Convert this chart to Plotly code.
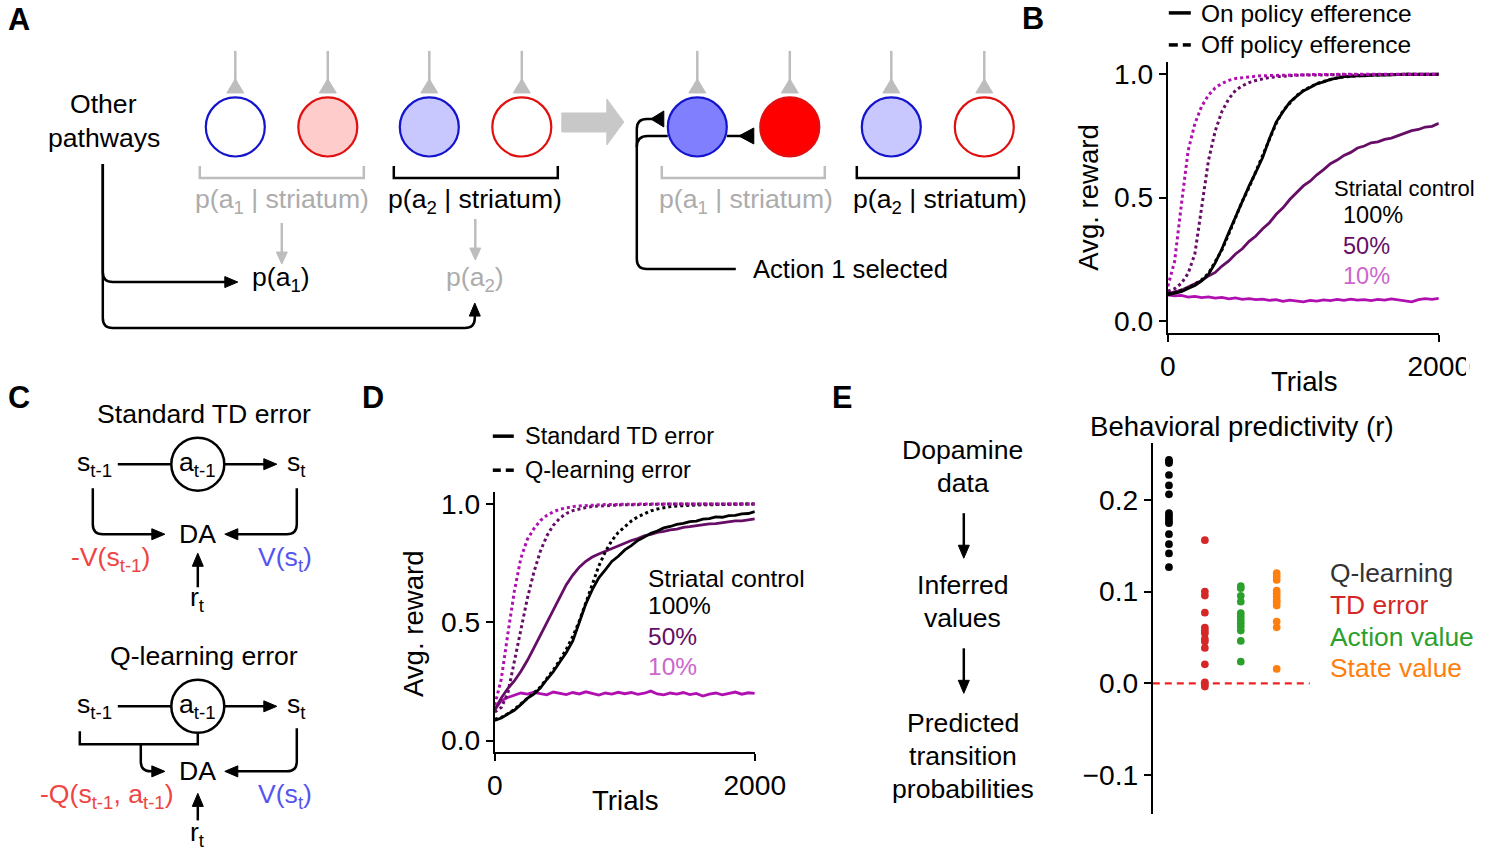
import plotly.graph_objects as go

FONT = "Liberation Sans, Arial, Helvetica, sans-serif"
W, H = 1500, 852
# the photographed page shows the figure slightly squeezed and shifted;
# these map the reference's pixel positions onto the figure's own pixels
SX, X0 = 0.974, 7.2
SY, Y0 = 0.990, 3.1
X1 = X0 + SX * W
Y1 = Y0 + SY * H
FS = 1 / 0.978

# ---------------- data ----------------
trials = list(range(0, 2001, 50))

b_on_100 = [0.105, 0.110, 0.118, 0.131, 0.143, 0.162, 0.188, 0.235, 0.292, 0.358,
            0.423, 0.482, 0.547, 0.603, 0.662, 0.738, 0.806, 0.848, 0.887, 0.910,
            0.932, 0.946, 0.961, 0.969, 0.979, 0.984, 0.990, 0.991, 0.995, 0.994,
            0.997, 0.998, 0.997, 0.999, 0.999, 1.000, 0.999, 1.000, 1.000, 0.999, 1.000]
b_off_100 = [0.112, 0.114, 0.124, 0.133, 0.149, 0.166, 0.192, 0.238, 0.288, 0.352,
             0.418, 0.485, 0.541, 0.607, 0.668, 0.733, 0.801, 0.852, 0.884, 0.913,
             0.934, 0.949, 0.962, 0.971, 0.980, 0.986, 0.989, 0.993, 0.994, 0.996,
             0.997, 0.997, 0.998, 0.999, 0.999, 1.000, 1.000, 1.000, 1.000, 1.000, 1.000]
b_on_50 = [0.110, 0.116, 0.124, 0.137, 0.150, 0.163, 0.182, 0.196, 0.222, 0.243,
           0.271, 0.292, 0.322, 0.344, 0.373, 0.398, 0.432, 0.458, 0.492, 0.518,
           0.547, 0.566, 0.592, 0.613, 0.637, 0.652, 0.671, 0.683, 0.701, 0.709,
           0.722, 0.726, 0.736, 0.741, 0.751, 0.758, 0.771, 0.776, 0.786, 0.789, 0.801]
b_off_50 = [0.120, 0.130, 0.152, 0.192, 0.272, 0.470, 0.650, 0.770, 0.850, 0.900,
            0.935, 0.953, 0.966, 0.975, 0.982, 0.987, 0.990, 0.993, 0.995, 0.996,
            0.997, 0.997, 0.998, 0.998, 0.999, 0.999, 0.999, 1.000, 1.000, 1.000,
            1.000, 1.000, 1.000, 1.000, 1.000, 1.000, 1.000, 1.000, 1.000, 1.000, 1.000]
b_on_10 = [0.105, 0.101, 0.103, 0.096, 0.099, 0.094, 0.097, 0.092, 0.095, 0.089,
           0.093, 0.087, 0.090, 0.086, 0.088, 0.083, 0.086, 0.079, 0.084, 0.081,
           0.077, 0.083, 0.080, 0.085, 0.082, 0.087, 0.083, 0.088, 0.084, 0.086,
           0.082, 0.087, 0.084, 0.089, 0.085, 0.081, 0.077, 0.086, 0.090, 0.087, 0.091]
b_off_10 = [0.140, 0.240, 0.470, 0.690, 0.800, 0.870, 0.915, 0.945, 0.963, 0.975,
            0.983, 0.987, 0.990, 0.992, 0.994, 0.995, 0.996, 0.997, 0.997, 0.998,
            0.998, 0.999, 0.999, 0.999, 1.000, 1.000, 1.000, 1.000, 1.000, 1.000,
            1.000, 1.000, 1.000, 1.000, 1.000, 1.000, 1.000, 1.000, 1.000, 1.000, 1.000]

d_td_100 = [0.085, 0.095, 0.112, 0.128, 0.152, 0.178, 0.196, 0.222, 0.258, 0.291,
            0.332, 0.372, 0.421, 0.497, 0.578, 0.638, 0.688, 0.722, 0.757, 0.779,
            0.806, 0.824, 0.846, 0.860, 0.876, 0.886, 0.899, 0.905, 0.914, 0.918,
            0.926, 0.928, 0.936, 0.938, 0.946, 0.944, 0.951, 0.952, 0.958, 0.960, 0.968]
d_q_100 = [0.090, 0.098, 0.113, 0.131, 0.155, 0.176, 0.201, 0.226, 0.262, 0.298,
           0.340, 0.386, 0.440, 0.505, 0.582, 0.660, 0.738, 0.798, 0.845, 0.880,
           0.905, 0.928, 0.946, 0.959, 0.971, 0.979, 0.985, 0.989, 0.992, 0.994,
           0.995, 0.996, 0.997, 0.997, 0.998, 0.998, 0.999, 0.999, 1.000, 1.000, 1.000]
d_td_50 = [0.130, 0.180, 0.220, 0.252, 0.292, 0.338, 0.391, 0.444, 0.499, 0.556,
           0.608, 0.659, 0.700, 0.733, 0.758, 0.776, 0.789, 0.801, 0.813, 0.824,
           0.834, 0.846, 0.854, 0.866, 0.872, 0.880, 0.884, 0.891, 0.894, 0.901,
           0.904, 0.909, 0.911, 0.916, 0.917, 0.922, 0.924, 0.929, 0.929, 0.934, 0.937]
d_q_50 = [0.120, 0.140, 0.200, 0.330, 0.470, 0.600, 0.710, 0.800, 0.865, 0.910,
          0.940, 0.960, 0.972, 0.980, 0.985, 0.990, 0.992, 0.994, 0.995, 0.996,
          0.997, 0.997, 0.998, 0.998, 0.999, 0.999, 0.999, 1.000, 1.000, 1.000,
          1.000, 1.000, 1.000, 1.000, 1.000, 1.000, 1.000, 1.000, 1.000, 1.000, 1.000]
d_td_10 = [0.130, 0.168, 0.182, 0.191, 0.201, 0.196, 0.204, 0.198, 0.193, 0.205,
           0.199, 0.194, 0.203, 0.197, 0.206, 0.199, 0.192, 0.201, 0.196, 0.204,
           0.198, 0.203, 0.195, 0.200, 0.209, 0.197, 0.193, 0.201, 0.196, 0.203,
           0.194, 0.199, 0.188, 0.196, 0.201, 0.193, 0.199, 0.205, 0.196, 0.202, 0.199]
d_q_10 = [0.150, 0.260, 0.450, 0.630, 0.770, 0.850, 0.895, 0.930, 0.952, 0.967,
          0.978, 0.984, 0.989, 0.992, 0.994, 0.996, 0.997, 0.998, 0.998, 0.999,
          0.999, 0.999, 1.000, 1.000, 1.000, 1.000, 1.000, 1.000, 1.000, 1.000,
          1.000, 1.000, 1.000, 1.000, 1.000, 1.000, 1.000, 1.000, 1.000, 1.000, 1.000]

e_categories = ["Q-learning", "TD error", "Action value", "State value"]
e_colors = ["#000000", "#d62728", "#2ca02c", "#ff7f0e"]
e_text_colors = ["#333333", "#d62728", "#2ca02c", "#ff7f0e"]
q_learning = [0.2436, 0.2418, 0.2400, 0.2270, 0.2156, 0.2060, 0.1855, 0.1830,
              0.1800, 0.1770, 0.1745, 0.1625, 0.1516, 0.1415, 0.1265]
td_error = [0.156, 0.100, 0.0956, 0.077, 0.0607, 0.0575, 0.0545, 0.0484,
            0.0455, 0.0385, 0.0207, 0.001, -0.0007, -0.0036]
action_value = [0.106, 0.1036, 0.0953, 0.089, 0.0764, 0.0727, 0.069, 0.0655,
                0.0618, 0.0575, 0.0462, 0.0236]
state_value = [0.120, 0.1164, 0.1127, 0.101, 0.098, 0.0945, 0.0909, 0.0884,
               0.0847, 0.0673, 0.061, 0.0156]
e_values = [q_learning, td_error, action_value, state_value]

reward_ticks = [0.0, 0.5, 1.0]
reward_ticktext = ["0.0", "0.5", "1.0"]
trial_ticks = [0, 2000]
e_ticks = [-0.1, 0.0, 0.1, 0.2]
e_ticktext = ["\u22120.1", "0.0", "0.1", "0.2"]

# ---------------- styles ----------------
C100 = "#000000"
C50 = "#660d66"
C10 = "#b010b0"
C10T = "#cc66cc"
BLUE = "#1414cc"
RED = "#e01010"
GRAY = "#bdbdbd"
GRAYT = "#acacac"

shapes = []
ann = []


def line(x0, y0, x1, y1, color="black", width=2.5, dash=None):
    shapes.append(dict(type="line", xref="x", yref="y", x0=x0, y0=y0, x1=x1, y1=y1,
                       line=dict(color=color, width=width, dash=dash)))


def path(d, color="black", width=2.5, fill="rgba(0,0,0,0)"):
    shapes.append(dict(type="path", xref="x", yref="y", path=d,
                       line=dict(color=color, width=width), fillcolor=fill))


def circle(cx, cy, r, edge, fill, width=2.2):
    shapes.append(dict(type="circle", xref="x", yref="y", x0=cx - r, x1=cx + r,
                       y0=cy - r, y1=cy + r, line=dict(color=edge, width=width),
                       fillcolor=fill))


def head(tx, ty, d, color="black", L=13, w=11):
    if d == "r":
        pts = [(tx, ty), (tx - L, ty - w / 2), (tx - L, ty + w / 2)]
    elif d == "l":
        pts = [(tx, ty), (tx + L, ty - w / 2), (tx + L, ty + w / 2)]
    elif d == "u":
        pts = [(tx, ty), (tx - w / 2, ty + L), (tx + w / 2, ty + L)]
    else:
        pts = [(tx, ty), (tx - w / 2, ty - L), (tx + w / 2, ty - L)]
    dstr = "M %.1f %.1f L %.1f %.1f L %.1f %.1f Z" % (pts[0] + pts[1] + pts[2])
    path(dstr, color=color, width=1, fill=color)


def text(x, y, s, size=26, color="black", xanchor="center", angle=0):
    ann.append(dict(xref="x", yref="y", x=x, y=y, text=s, showarrow=False,
                    xanchor=xanchor, yanchor="middle", textangle=angle,
                    font=dict(family=FONT, size=round(size * FS, 1), color=color)))


shapes.append(dict(type="rect", xref="x", yref="y", x0=X0, x1=X1, y0=Y0, y1=Y1,
                   line=dict(color="white", width=6)))

# ---------------- Panel labels ----------------
text(18, 19, "<b>A</b>", size=30)
text(1032, 18, "<b>B</b>", size=30)
text(18, 396, "<b>C</b>", size=30)
text(372, 396, "<b>D</b>", size=30)
text(841, 396, "<b>E</b>", size=30)

# ---------------- Panel A ----------------
CY = 126
R = 29.5
left_cells = [(234.5, BLUE, "white"), (327, RED, "#ffcccc"),
              (428.5, BLUE, "#c8c8ff"), (521, RED, "white")]
right_cells = [(696.5, BLUE, "#8080ff"), (789, RED, "#ff0000"),
               (890.5, BLUE, "#c8c8ff"), (983.5, RED, "white")]
for cx, ec, fc in left_cells + right_cells:
    line(cx, 50, cx, 82, color=GRAY, width=2.5)
    path("M %.1f 78 L %.1f 92 L %.1f 92 Z" % (cx, cx - 8.5, cx + 8.5), color=GRAY, width=1, fill=GRAY)
    circle(cx, CY, R, ec, fc)

path("M 199 165 V 177 H 363 V 165", color=GRAY, width=2.5)
path("M 393 165 V 177 H 557 V 165", color="black", width=2.5)
path("M 661 165 V 177 H 824 V 165", color=GRAY, width=2.5)
path("M 856 165 V 177 H 1018 V 165", color="black", width=2.5)

text(281, 200, "p(a<sub>1</sub> | striatum)", size=26, color=GRAYT)
text(474, 200, "p(a<sub>2</sub> | striatum)", size=26)
text(745, 200, "p(a<sub>1</sub> | striatum)", size=26, color=GRAYT)
text(939, 200, "p(a<sub>2</sub> | striatum)", size=26)

line(281, 222, 281, 252, color=GRAY, width=2.5)
head(281, 263, "d", color=GRAY, L=12, w=11)
line(474.5, 218, 474.5, 248, color=GRAY, width=2.5)
head(474.5, 259, "d", color=GRAY, L=12, w=11)

text(280, 278, "p(a<sub>1</sub>)", size=26)
text(474, 278, "p(a<sub>2</sub>)", size=26, color=GRAYT)

text(103, 103, "Other", size=26)
text(103, 137, "pathways", size=26)

path("M 102 163 V 271 Q 102 281 112 281 H 226")
head(237, 281, "r")
path("M 102 163 V 317 Q 102 327 112 327 H 464 Q 474 327 474 317 V 313")
head(474, 302, "u")

path("M 561 112 H 606 V 98 L 623 121 L 606 144 V 131 H 561 Z", color="#c8c8c8", width=1, fill="#c8c8c8")

line(726, 135, 753, 135)
path("M 738 135 L 753 127 L 753 143 Z", color="black", width=1, fill="black")
path("M 735 268 H 646 Q 636 268 636 258 V 128 Q 636 118 646 118 H 652")
path("M 650 118 L 663 110 L 663 126 Z", color="black", width=1, fill="black")
path("M 636 146 Q 636 135 647 135 H 667")
text(750, 268, "Action 1 selected", size=25, xanchor="left")


# ---------------- Panel C ----------------
def td_diagram(y0, title):
    text(203, y0 - 50, title, size=26)
    circle(197, y0, 26.5, "black", "white", width=2.5)
    text(197, y0, "a<sub>t-1</sub>", size=26)
    text(94, y0, "s<sub>t-1</sub>", size=26)
    text(296, y0, "s<sub>t</sub>", size=26)
    line(117, y0, 170.5, y0)
    line(223.5, y0, 264, y0)
    head(276, y0, "r")


td_diagram(463, "Standard TD error")
path("M 92 487 V 523 Q 92 533 102 533 H 152")
head(164, 533, "r")
path("M 296 487 V 523 Q 296 533 286 533 H 236")
head(224, 533, "l")
text(197, 533, "DA", size=26)
text(110, 558, "-V(s<sub>t-1</sub>)", size=26, color="#ee4444")
text(284, 558, "V(s<sub>t</sub>)", size=26, color="#5555ee")
line(197, 586, 197, 563)
head(197, 552, "u")
text(197, 598, "r<sub>t</sub>", size=26)

td_diagram(705, "Q-learning error")
path("M 79 730 V 743 H 197 V 731.5")
path("M 140 743 V 760 Q 140 770 150 770 H 152")
head(164, 770, "r")
path("M 296 727 V 760 Q 296 770 286 770 H 236")
head(224, 770, "l")
text(197, 770, "DA", size=26)
text(106, 795, "-Q(s<sub>t-1</sub>, a<sub>t-1</sub>)", size=26, color="#ee4444")
text(284, 795, "V(s<sub>t</sub>)", size=26, color="#5555ee")
line(197, 819, 197, 803)
head(197, 792, "u")
text(197, 833, "r<sub>t</sub>", size=26)

# ---------------- Panel E flowchart ----------------
for yy, s in [(449, "Dopamine"), (482, "data"), (584, "Inferred"), (617, "values"),
              (722, "Predicted"), (755, "transition"), (788, "probabilities")]:
    text(962, yy, s, size=26)
line(963, 512, 963, 546)
head(963, 557, "d")
line(963, 647, 963, 681)
head(963, 692, "d")

# ---------------- legends / labels for B and D ----------------
line(1168, 12, 1190, 12, width=3.5)
line(1168, 44, 1177, 44, width=3.5)
line(1182, 44, 1190, 44, width=3.5)
text(1198, 13, "On policy efference", size=24, xanchor="left")
text(1198, 44, "Off policy efference", size=24, xanchor="left")
text(1087, 196, "Avg. reward", size=27, angle=-90)
text(1303, 380, "Trials", size=27)
text(1331, 187, "Striatal control", size=21.5, xanchor="left")
text(1340, 214, "100%", size=23, color=C100, xanchor="left")
text(1340, 245, "50%", size=23, color=C50, xanchor="left")
text(1340, 275, "10%", size=23, color=C10T, xanchor="left")

line(492, 435, 513, 435, width=3.5)
line(492, 469, 500, 469, width=3.5)
line(505, 469, 513, 469, width=3.5)
text(522, 435, "Standard TD error", size=23, xanchor="left")
text(522, 469, "Q-learning error", size=23, xanchor="left")
text(412, 622, "Avg. reward", size=27, angle=-90)
text(624, 799, "Trials", size=27)
text(645, 577, "Striatal control", size=24, xanchor="left")
text(645, 604, "100%", size=24, color=C100, xanchor="left")
text(645, 635, "50%", size=24, color=C50, xanchor="left")
text(645, 665, "10%", size=24, color=C10T, xanchor="left")

text(1241, 425, "Behavioral predictivity (r)", size=27)
for i, (cat, col) in enumerate(zip(e_categories, e_text_colors)):
    text(1327, 572 + i * 31.7, cat, size=25.8, color=col, xanchor="left")

# ---------------- figure ----------------
fig = go.Figure()
fig.add_trace(go.Scatter(x=[100], y=[100], mode="markers", marker=dict(opacity=0),
                         hoverinfo="skip", showlegend=False, xaxis="x", yaxis="y"))


def add_curve(xa, ya, vals, color, dotted):
    fig.add_trace(go.Scatter(x=trials, y=vals, mode="lines", xaxis=xa, yaxis=ya,
                             line=dict(color=color, width=3 if dotted else 2.8,
                                       dash="dot" if dotted else "solid"),
                             showlegend=False, hoverinfo="skip"))


for vals, col, dot in [(b_on_10, C10, False), (b_on_50, C50, False), (b_on_100, C100, False),
                       (b_off_100, C100, True), (b_off_50, C50, True), (b_off_10, C10, True)]:
    add_curve("x2", "y2", vals, col, dot)
for vals, col, dot in [(d_td_10, C10, False), (d_td_50, C50, False), (d_td_100, C100, False),
                       (d_q_100, C100, True), (d_q_50, C50, True), (d_q_10, C10, True)]:
    add_curve("x3", "y3", vals, col, dot)

fig.add_trace(go.Scatter(x=[-0.45, 3.92], y=[0, 0], mode="lines", xaxis="x4", yaxis="y4",
                         line=dict(color="#ee2222", width=2.2, dash="7px,5px"),
                         showlegend=False, hoverinfo="skip"))
for i, (vals, col) in enumerate(zip(e_values, e_colors)):
    fig.add_trace(go.Scatter(x=[i] * len(vals), y=vals, mode="markers", xaxis="x4", yaxis="y4",
                             marker=dict(color=col, size=7.7, line=dict(width=0)),
                             showlegend=False, hoverinfo="skip"))


def fx(px):
    return (px - X0) / (X1 - X0)


def fy(py):
    return 1 - (py - Y0) / (Y1 - Y0)


axis_style = dict(showline=True, linecolor="black", linewidth=2, ticks="outside", ticklen=7,
                  tickwidth=2, tickcolor="black", showgrid=False, zeroline=False,
                  tickfont=dict(family=FONT, size=28.2, color="black"))

fig.update_layout(
    width=W, height=H, margin=dict(l=0, r=0, t=0, b=0),
    paper_bgcolor="white", plot_bgcolor="rgba(0,0,0,0)", showlegend=False,
    xaxis=dict(domain=[0, 1], range=[X0, X1], visible=False),
    yaxis=dict(domain=[0, 1], range=[Y1, Y0], visible=False),
    xaxis2=dict(domain=[fx(1167), fx(1438)], range=[0, 2000], anchor="y2",
                tickvals=trial_ticks, ticktext=["0", "2000"], **axis_style),
    yaxis2=dict(domain=[fy(332), fy(61)], range=[-0.05, 1.05], anchor="x2",
                tickvals=reward_ticks, ticktext=reward_ticktext, **axis_style),
    xaxis3=dict(domain=[fx(494), fx(754)], range=[0, 2000], anchor="y3",
                tickvals=trial_ticks, ticktext=["0", "2000"], **axis_style),
    yaxis3=dict(domain=[fy(751), fy(491)], range=[-0.05, 1.05], anchor="x3",
                tickvals=reward_ticks, ticktext=reward_ticktext, **axis_style),
    xaxis4=dict(domain=[fx(1152), fx(1310)], range=[-0.45, 3.95], anchor="y4",
                visible=False),
    yaxis4=dict(domain=[fy(813), fy(442)], range=[-0.1429, 0.2617], anchor="x4",
                tickvals=e_ticks, ticktext=e_ticktext, **axis_style),
    shapes=shapes, annotations=ann,
)

fig.write_html("out.html", config={"displayModeBar": False, "responsive": False},
               post_script="document.body.style.margin='0';document.body.style.overflow='hidden';")
